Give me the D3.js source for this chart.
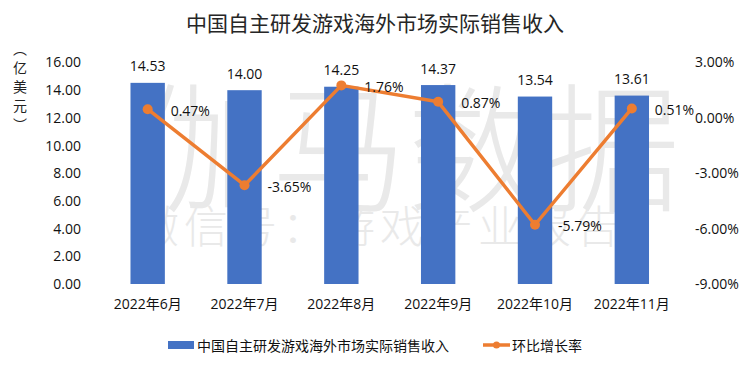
<!DOCTYPE html>
<html><head><meta charset="utf-8">
<script src="https://cdnjs.cloudflare.com/ajax/libs/d3/7.8.5/d3.min.js"></script>
<style>
html,body{margin:0;padding:0;background:#fff;}
text{font-family:"Open Sans","Noto Sans CJK SC",sans-serif;}
</style></head>
<body><svg id="c" width="750" height="368"></svg>
<script>
const categories = ["2022年6月","2022年7月","2022年8月","2022年9月","2022年10月","2022年11月"];
const revenue = [14.53, 14.00, 14.25, 14.37, 13.54, 13.61];
const growth = [0.47, -3.65, 1.76, 0.87, -5.79, 0.51];
const leftTicks = [0,2,4,6,8,10,12,14,16];
const rightTicks = [-9,-6,-3,0,3];
const title = "中国自主研发游戏海外市场实际销售收入";
const seriesNames = ["中国自主研发游戏海外市场实际销售收入","环比增长率"];
const axisTitle = "（亿美元）";
const watermark1 = "伽马数据";
const watermark2 = "微信号：游戏产业报告";

const svg = d3.select("#c");
const W = 750, H = 368;
const x = d3.scaleBand().domain(categories).range([99.5, 680]).paddingInner(0.645).paddingOuter(0.32);
const yL = d3.scaleLinear().domain([0,16]).range([284, 62.5]);
const yR = d3.scaleLinear().domain([-9,3]).range([284, 62.5]);
const blue = "#4472C4", orange = "#ED7D31";
const pct = d => d.toFixed(2) + "%";

svg.append("rect").attr("width",W).attr("height",H).attr("fill","#fff");

// title
svg.append("text").attr("x",375).attr("y",22).attr("text-anchor","middle")
  .attr("dominant-baseline","central").attr("font-size",21).attr("fill","#262626")
  .style("font-family","'Noto Sans CJK SC'").text(title);

// watermark
svg.append("text").attr("x",135).attr("y",140).attr("dominant-baseline","central")
  .attr("font-size",140).attr("fill","#e9e9e9").attr("textLength",545).attr("lengthAdjust","spacingAndGlyphs")
  .style("font-family","'Noto Sans CJK SC'").style("font-weight",300).text(watermark1);
svg.append("text").attr("x",135).attr("y",224).attr("dominant-baseline","central")
  .attr("font-size",44).attr("fill","#e9e9e9").attr("textLength",485).attr("lengthAdjust","spacing")
  .style("font-family","'Noto Sans CJK SC'").style("font-weight",300).text(watermark2);

// bars
svg.append("g").selectAll("rect").data(categories).join("rect")
  .attr("x",d=>x(d)).attr("width",x.bandwidth())
  .attr("y",(d,i)=>yL(revenue[i])).attr("height",(d,i)=>yL(0)-yL(revenue[i]))
  .attr("fill",blue);

// bar labels
svg.append("g").selectAll("text").data(categories).join("text")
  .attr("x",d=>x(d)+x.bandwidth()/2).attr("y",(d,i)=>yL(revenue[i])-17)
  .attr("text-anchor","middle").attr("dominant-baseline","central")
  .attr("font-size",14).attr("fill","#111").text((d,i)=>revenue[i].toFixed(2));

// left axis
const gl = svg.append("g").attr("transform","translate(81,0)")
  .call(d3.axisLeft(yL).tickValues(leftTicks).tickSize(0).tickPadding(0).tickFormat(d=>d.toFixed(2)));
gl.select(".domain").remove();
gl.selectAll("text").attr("font-size",14).attr("fill","#111").style("font-family","'Open Sans'");

// right axis
const gr = svg.append("g").attr("transform","translate(695,0)")
  .call(d3.axisRight(yR).tickValues(rightTicks).tickSize(0).tickPadding(0).tickFormat(pct));
gr.select(".domain").remove();
gr.selectAll("text").attr("font-size",14).attr("fill","#111").style("font-family","'Open Sans'");

// x axis labels
const gx = svg.append("g").attr("transform","translate(0,299)")
  .call(d3.axisBottom(x).tickSize(0).tickPadding(0));
gx.select(".domain").remove();
gx.selectAll("text").attr("font-size",14).attr("fill","#111").attr("dy","0.71em");

// axis title (vertical)
svg.append("text").attr("x",20).attr("y",42)
  .style("writing-mode","vertical-rl").style("text-orientation","upright")
  .attr("font-size",14).attr("letter-spacing",5).attr("fill","#222")
  .style("font-family","'Noto Sans CJK SC'").text(axisTitle);

// line
const cx = d=>x(d)+x.bandwidth()/2;
const line = d3.line().x((d,i)=>cx(categories[i])).y(d=>yR(d));
svg.append("path").datum(growth).attr("d",line).attr("fill","none")
  .attr("stroke",orange).attr("stroke-width",3.5).attr("stroke-linejoin","round");
svg.append("g").selectAll("circle").data(growth).join("circle")
  .attr("cx",(d,i)=>cx(categories[i])).attr("cy",d=>yR(d)).attr("r",5).attr("fill",orange);
svg.append("g").selectAll("text").data(growth).join("text")
  .attr("x",(d,i)=>cx(categories[i])+23).attr("y",d=>yR(d)+1)
  .attr("dominant-baseline","central").attr("font-size",14).attr("fill","#111")
  .text(pct);

// legend
const lg = svg.append("g");
lg.append("rect").attr("x",168).attr("y",341).attr("width",26).attr("height",8).attr("fill",blue);
lg.append("text").attr("x",197).attr("y",345).attr("dominant-baseline","central")
  .attr("font-size",14).attr("fill","#111").style("font-family","'Noto Sans CJK SC'").text(seriesNames[0]);
lg.append("line").attr("x1",483).attr("x2",510).attr("y1",345).attr("y2",345)
  .attr("stroke",orange).attr("stroke-width",3.5);
lg.append("circle").attr("cx",496.5).attr("cy",345).attr("r",3.5).attr("fill",orange);
lg.append("text").attr("x",512).attr("y",345).attr("dominant-baseline","central")
  .attr("font-size",14).attr("fill","#111").style("font-family","'Noto Sans CJK SC'").text(seriesNames[1]);
</script></body></html>
